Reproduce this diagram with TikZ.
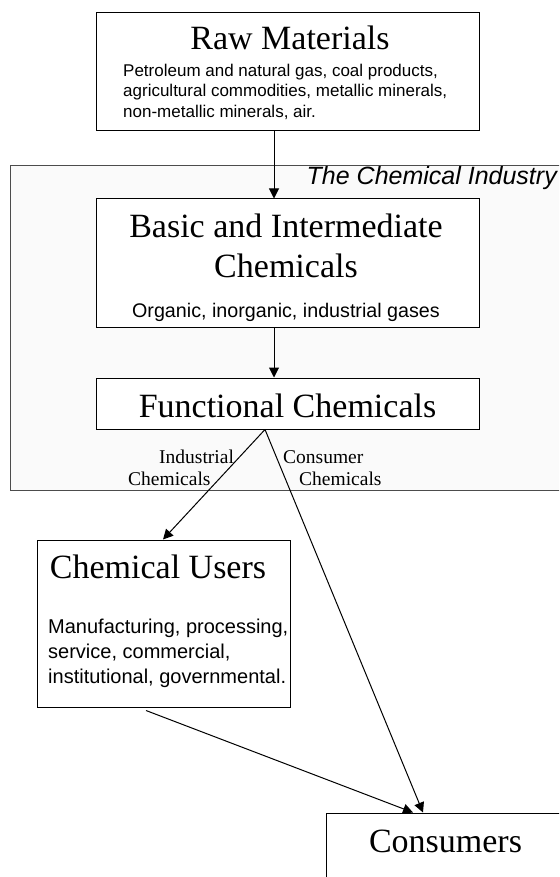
\documentclass[tikz,border=0pt]{standalone}
\usepackage{fontspec}
\setmainfont{Liberation Serif}
\setsansfont{Liberation Sans}
\usetikzlibrary{calc, positioning, arrows.meta}
\tikzset{
    boxnode/.style = {draw, rectangle, fill=white, inner sep = 0em, line width=1pt},
    groupnode/.style = {draw=black!70, rectangle, fill=black!2, inner sep = 0em, line width=1pt},
    titlenode/.style = {draw=none, fill=none, inner sep = 0em, anchor=base, align=center, 
      font=\fontsize{34}{40}\selectfont},
    subnode/.style = {draw=none, fill=none, inner sep = 0em, anchor=north west, align=left, 
      font=\sffamily\fontsize{17}{20.5}\selectfont},
    labelnode/.style = {draw=none, fill=none, inner sep = 0em, anchor=base west, 
      font=\fontsize{19.5}{22}\selectfont},
    connect/.style = {black, line width=1pt, -{Triangle[length=10pt,width=10pt]}},
    plainline/.style = {black, line width=1pt}
}
\begin{document}
\begin{tikzpicture}[x=1pt, y=-1pt]
    \clip (0,0) rectangle (559,877);

    % the industry frame
    \node [name=industry, groupnode, minimum width=560pt, minimum height=324pt] at (290.7,328) {};
    \node [name=industrylabel, draw=none, inner sep=0em, anchor=base east, 
        font=\sffamily\itshape\fontsize{25}{30}\selectfont] at (557,185) {The Chemical Industry};

    \node [name=raw, boxnode, minimum width=383pt, minimum height=118pt] at (287.5,72) {};
    \node [name=rawtitle, titlenode] at (290,50) {Raw Materials};
    \node [name=rawsub, subnode] at (123,63.5) {Petroleum and natural gas, coal products,\\
        agricultural commodities, metallic minerals,\\non-metallic minerals, air.};

    \node [name=basic, boxnode, minimum width=383pt, minimum height=128pt] at (287.5,263) {};
    \node [name=basictitle, titlenode, anchor=north] at (286,214) {Basic and Intermediate\\Chemicals};
    \node [name=basicsub, titlenode, font=\sffamily\fontsize{19.7}{23}\selectfont] at (286,317) 
        {Organic, inorganic, industrial gases};

    \node [name=functional, boxnode, minimum width=383pt, minimum height=51pt] at (287.5,403.5) {};
    \node [name=functitle, titlenode] at (287.5,417) {Functional Chemicals};

    \node [name=users, boxnode, minimum width=253pt, minimum height=167pt] at (163.5,623.5) {};
    \node [name=userstitle, titlenode] at (158,578) {Chemical Users};
    \node [name=userssub, subnode, font=\sffamily\fontsize{20}{25}\selectfont] at (48,618.5) 
        {Manufacturing, processing,\\service, commercial,\\institutional, governmental.};

    \node [name=consumers, boxnode, minimum width=274pt, minimum height=114pt] at (463,870) {};
    \node [name=constitle, titlenode] at (445.5,852) {Consumers};

    % branch labels
    \node [name=indlabel, labelnode] at (159,463) {Industrial};
    \node [name=indlabelb, labelnode] at (128,485) {Chemicals};
    \node [name=conlabel, labelnode] at (283,463) {Consumer};
    \node [name=conlabelb, labelnode] at (299,485) {Chemicals};

    \coordinate (fork) at ([xshift=-22.5pt]functional.south);

    \draw [connect] ([xshift=-13.5pt]raw.south) -- ([xshift=-13.5pt]basic.north);
    \draw [connect] ([xshift=-13.5pt]basic.south) -- ([xshift=-13.5pt]functional.north);
    \draw [connect] (fork) -- ([xshift=-0.5pt]users.north);
    \draw [connect] (fork) -- ([xshift=-40pt]consumers.north);
    \draw [connect] ([xshift=-17.5pt, yshift=-3pt]users.south) -- ([xshift=-50pt]consumers.north);
\end{tikzpicture}
\end{document}
